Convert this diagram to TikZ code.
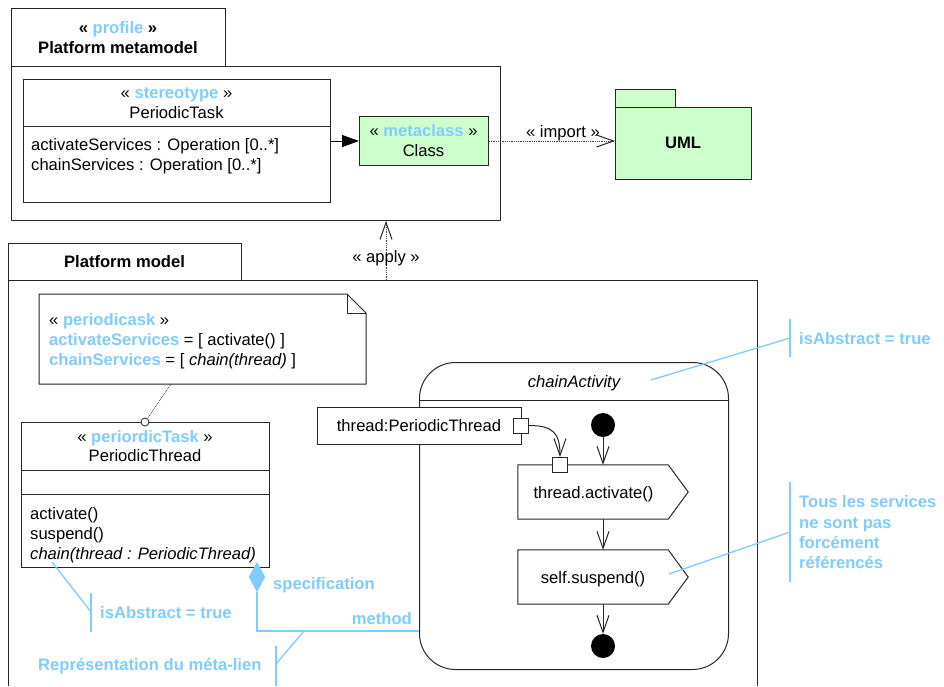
\documentclass[tikz,border=0pt]{standalone}
\usepackage{fontspec}
\setmainfont{Liberation Sans}
\usetikzlibrary{arrows.meta,shapes.geometric}
\definecolor{sb}{RGB}{128,204,255}
\definecolor{lg}{RGB}{204,255,204}
\newcommand{\fsz}{\fontsize{16.6}{20}\selectfont}
\newcommand{\stt}[1]{\textcolor{sb}{\bfseries #1}}
\begin{document}
\begin{tikzpicture}[x=1pt,y=-1pt,
  txt/.style={anchor=base, inner sep=0pt, font=\fsz},
  txtl/.style={anchor=base west, inner sep=0pt, font=\fsz},
  txtb/.style={anchor=base west, inner sep=0pt, font=\fsz\bfseries, text=sb},
  box/.style={draw=black!85, line width=1pt, fill=white},
  nw/.style={anchor=north west, inner sep=0pt},
  bl/.style={draw=sb, line width=1.3pt},
  dep/.style={draw=black!75, line width=0.8pt, densely dotted},
  openhead/.style={-{Straight Barb[length=17pt,width=12pt,line width=1pt]}},
  flow/.style={draw=black!85, line width=1pt, openhead},
  dot/.style={circle, fill=black, inner sep=0pt, minimum size=24pt}
]
\useasboundingbox (0,0) rectangle (944,686);

% ---------- Platform metamodel (profile) ----------
\node[box, nw, minimum width=489pt, minimum height=154pt] (mmbody) at (11,66) {};
\node[box, nw, minimum width=214pt, minimum height=58pt] (mmtab) at (11,8) {};
\node[txt] (mmt1) at (118,33) {\textbf{« \stt{profile} »}};
\node[txt] (mmt2) at (118,53) {\textbf{Platform metamodel}};

% stereotype PeriodicTask
\node[box, nw, minimum width=307pt, minimum height=123pt] (ster) at (23,79) {};
\draw[black!85, line width=1pt] (ster.west |- 0,126) coordinate (sd1) -- (ster.east |- sd1);
\node[txt] (st1) at (176.5,98) {« \stt{stereotype} »};
\node[txt] (st2) at (176.5,118) {PeriodicTask};
\node[txtl] (st3) at (31,150) {activateServices : Operation [0..*]};
\node[txtl] (st4) at (31,170) {chainServices : Operation [0..*]};

% metaclass Class
\node[box, fill=lg, nw, minimum width=129pt, minimum height=49pt] (cls) at (359,116) {};
\node[txt] (cl1) at (423.5,136) {« \stt{metaclass} »};
\node[txt] (cl2) at (423.5,156) {Class};

\draw[black, line width=1pt, -{Triangle[length=17pt,width=12pt]}] (ster.east |- cls.west) -- (cls.west);

% UML package
\node[box, fill=lg, nw, minimum width=60pt, minimum height=18pt] (umltab) at (615,89) {};
\node[box, fill=lg, nw, minimum width=136pt, minimum height=72pt] (uml) at (615,107) {};
\node[txt] (umlt) at (683,148) {\textbf{UML}};

% import
\draw[dep] (cls.east) -- (uml.west |- cls.east);
\draw[black!85, line width=1pt, openhead] ([xshift=-2pt]uml.west |- cls.east) -- (uml.west |- cls.east);
\node[txt] (imp) at (563,137) {« import »};

% ---------- Platform model ----------
\draw[black!85, line width=1pt] (8,686) -- (8,280) -- (757,280) -- (757,686);
\node[box, nw, minimum width=233pt, minimum height=37pt] (pmtab) at (8,243) {};
\node[txt] (pmt) at (124.5,267) {\textbf{Platform model}};
\coordinate (pmtop) at (386,280);

% apply
\draw[dep] (pmtop) -- (pmtop |- mmbody.south);
\draw[black!85, line width=1pt, openhead] ([yshift=-2pt]pmtop |- mmbody.south) -- (pmtop |- mmbody.south);
\node[txt] (apl) at (386,262) {« apply »};

% note
\node[nw, minimum width=327pt, minimum height=90pt] (note) at (39,294) {};
\draw[box] (39,294) -- (347,294) -- (366,313) -- (366,384) -- (39,384) -- cycle;
\draw[black!85, line width=1pt] (347,294) -- (347,313) -- (366,313);
\node[txtl] (n1) at (49,325) {« \stt{periodicask} »};
\node[txtl] (n2) at (49,345) {\stt{activateServices} = [ activate() ]};
\node[txtl] (n3) at (49,365) {\stt{chainServices} = [ \textit{chain(thread)} ]};

% PeriodicThread class
\node[box, nw, minimum width=248pt, minimum height=145pt] (pt) at (21,422) {};
\draw[black!85, line width=1pt] (pt.west |- 0,470) coordinate (pd1) -- (pt.east |- pd1);
\draw[black!85, line width=1pt] (pt.west |- 0,494) coordinate (pd2) -- (pt.east |- pd2);
\node[txt] (p1t) at (145,442) {« \stt{periordicTask} »};
\node[txt] (p2t) at (145,461) {PeriodicThread};
\node[txtl] (o1) at (30,519) {activate()};
\node[txtl] (o2) at (30,539) {suspend()};
\node[txtl] (o3) at (30,559) {\itshape chain(thread : PeriodicThread)};

% note attachment
\coordinate (nt) at (171,384);
\node[circle, draw=black!85, fill=white, line width=0.8pt, inner sep=0pt, minimum size=8pt] (lol) at (145,422) {};
\draw[dep] (nt) -- (lol);

% ---------- Activity ----------
\node[draw=black!85, line width=1pt, rounded corners=36pt, nw, minimum width=309pt, minimum height=307pt] (act) at (419,362) {};
\draw[black!85, line width=1pt] (act.west |- 0,400) coordinate (ah) -- (act.east |- ah);
\node[txt] (actt) at (574,387) {\itshape chainActivity};

% object node
\node[box, minimum width=204pt, minimum height=37pt, inner sep=0pt] (obj) at (419,425.5) {};
\node[txt] (objt) at (419,431) {thread:PeriodicThread};
\node[box, minimum width=15pt, minimum height=15pt, inner sep=0pt] (pin1) at (521,425.5) {};

% actions
\node[minimum width=150pt, minimum height=54pt, inner sep=0pt] (a1) at (593,492) {};
\draw[box] (a1.north west) -- (a1.north east) -- ([xshift=20pt]a1.east) -- (a1.south east) -- (a1.south west) -- cycle;
\node[txt] (a1t) at (593.5,498) {thread.activate()};
\node[minimum width=150pt, minimum height=54pt, inner sep=0pt] (a2) at (593,577) {};
\draw[box] (a2.north west) -- (a2.north east) -- ([xshift=20pt]a2.east) -- (a2.south east) -- (a2.south west) -- cycle;
\node[txt] (a2t) at (593,583) {self.suspend()};
\node[box, minimum width=15pt, minimum height=15pt, inner sep=0pt] (pin2) at (560,465) {};

% initial / final
\node[dot] (ini) at (603,425) {};
\node[dot] (fin) at (603,646) {};

\draw[flow] (ini) -- (ini |- a1.north);
\draw[flow] (a1.south -| ini) -- (a2.north -| ini);
\draw[flow] (a2.south -| ini) -- (fin);
\draw[flow] (pin1.east) .. controls (553,425.5) and (560,433) .. (pin2.north);

% ---------- Blue annotations ----------
% specification / method meta-link
\node[inner sep=0pt, minimum width=16pt, minimum height=30pt] (dia) at (257,577) {};
\fill[sb] (dia.north) -- (dia.east) -- (dia.south) -- (dia.west) -- cycle;
\coordinate (mend) at (419,631);
\draw[draw=sb, line width=1.8pt] (dia.south) |- (mend);
\node[txtb] (spec) at (273,589) {specification};
\node[anchor=base east, inner sep=0pt, font=\fsz\bfseries, text=sb] (meth) at (412,624) {method};

% isAbstract (operation)
\coordinate (ia1) at (52,562);
\coordinate (ia2) at (91,612);
\draw[bl] (ia1) -- (ia2);
\draw[bl] (91,593) -- (91,632);
\node[txtb] (iat) at (100,618) {isAbstract = true};

% Representation du meta-lien
\coordinate (rm1) at (304,631);
\coordinate (rm2) at (276,664);
\draw[bl] (rm1) -- (rm2);
\draw[bl] (276,646) -- (276,686);
\node[txtb] (rmt) at (38,670) {Représentation du méta-lien};

% isAbstract (activity)
\coordinate (ib1) at (651,380);
\coordinate (ib2) at (790,338);
\draw[bl] (ib1) -- (ib2);
\draw[bl] (790,319) -- (790,357);
\node[txtb] (ibt) at (799,344) {isAbstract = true};

% Tous les services
\coordinate (ts1) at (669,574);
\coordinate (ts2) at (790,532);
\draw[bl] (ts1) -- (ts2);
\draw[bl] (790,482) -- (790,582);
\node[txtb] (ts3) at (799,507) {Tous les services};
\node[txtb] (ts4) at (799,528) {ne sont pas};
\node[txtb] (ts5) at (799,548) {forcément};
\node[txtb] (ts6) at (799,568) {référencés};
\end{tikzpicture}
\end{document}
